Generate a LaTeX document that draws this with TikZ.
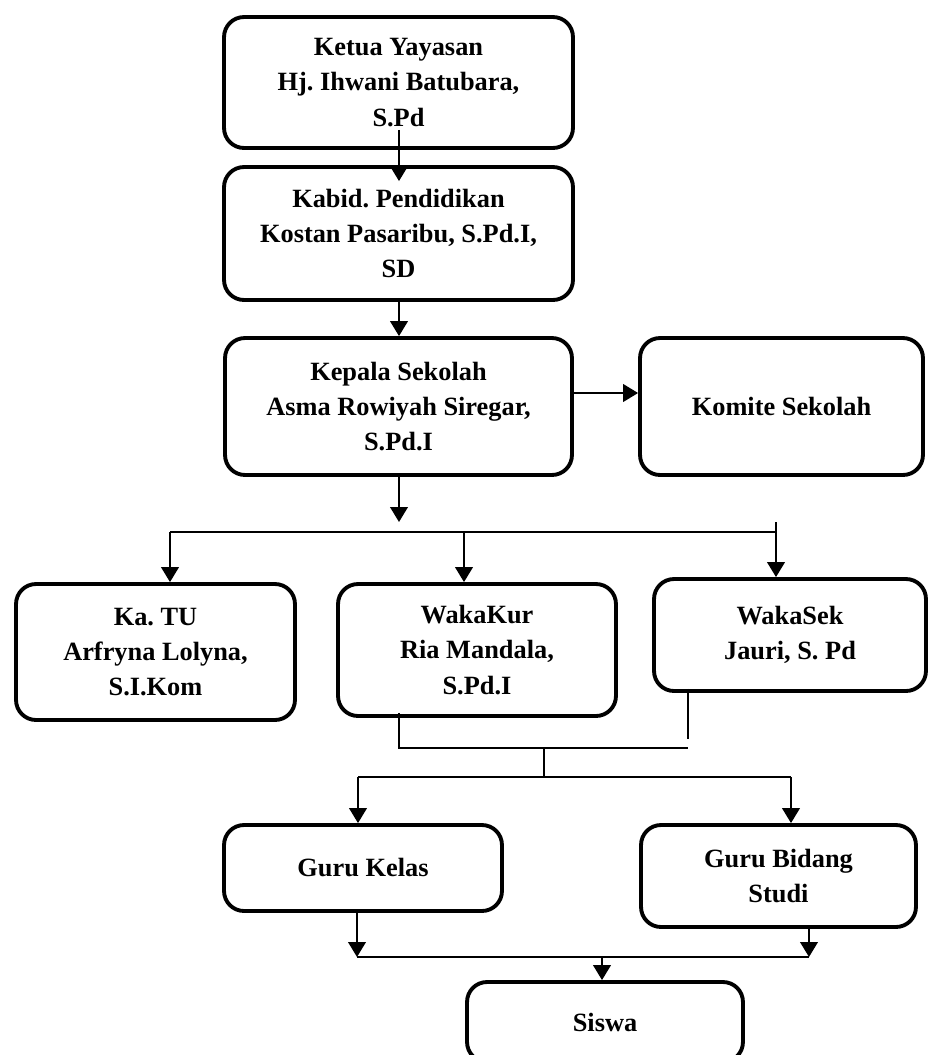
\documentclass[tikz,border=0pt]{standalone}
\usepackage{fontspec}
\setmainfont{Liberation Serif}
\usetikzlibrary{arrows.meta}
\frenchspacing

\begin{document}
\begin{tikzpicture}[x=0.02cm,y=-0.02cm,
        kotak/.style={draw,line width=2.2pt,rounded corners=0.4cm,align=center,inner sep=0pt,font=\fontsize{15}{20}\selectfont\bfseries},
        panah/.style={line width=1.1pt,-{Triangle[length=8.5pt,width=10pt]}},
        garis/.style={line width=0.9pt}]
        \useasboundingbox (0,0) rectangle (929,1055);
        \clip (0,0) rectangle (929,1055);
        \node[kotak,minimum width=6.98cm,minimum height=2.62cm] (ketua) at (398.5,82.5) {Ketua Yayasan\\Hj. Ihwani Batubara,\\S.Pd};
        \node[kotak,minimum width=6.98cm,minimum height=2.66cm] (kabid) at (398.5,233.5) {Kabid. Pendidikan\\Kostan Pasaribu, S.Pd.I,\\SD};
        \node[kotak,minimum width=6.94cm,minimum height=2.74cm] (kepala) at (398.5,406.5) {Kepala Sekolah\\Asma Rowiyah Siregar,\\S.Pd.I};
        \node[kotak,minimum width=5.66cm,minimum height=2.74cm] (komite) at (781.5,406.5) {Komite Sekolah};
        \node[kotak,minimum width=5.58cm,minimum height=2.72cm] (katu) at (155.5,652) {Ka. TU\\Arfryna Lolyna,\\S.I.Kom};
        \node[kotak,minimum width=5.56cm,minimum height=2.64cm] (wakakur) at (477,650) {WakaKur\\Ria Mandala,\\S.Pd.I};
        \node[kotak,minimum width=5.44cm,minimum height=2.24cm] (wakasek) at (790,635) {WakaSek\\Jauri, S. Pd};
        \node[kotak,minimum width=5.56cm,minimum height=1.72cm] (gurukelas) at (363,868) {Guru Kelas};
        \node[kotak,minimum width=5.5cm,minimum height=2.04cm] (gurubidang) at (778.5,876) {Guru Bidang\\Studi};
        \node[kotak,minimum width=5.52cm,minimum height=1.6cm] (siswa) at (605,1022) {Siswa};

        \coordinate (busKiri) at (170,532);
        \coordinate (busTengah) at (464,532);
        \coordinate (busKanan) at (776,532);
        \coordinate (atasKanan) at (776,522);
        \coordinate (wkKiri) at (399,748);
        \coordinate (wkKanan) at (688,748);
        \coordinate (wkTengah) at (544,748);
        \coordinate (guruKiri) at (358,777);
        \coordinate (guruTengah) at (544,777);
        \coordinate (guruKanan) at (791,777);
        \coordinate (bawahKiri) at (357,957);
        \coordinate (bawahTengah) at (602,957);
        \coordinate (bawahKanan) at (809,957);

        \draw[panah] ([xshift=0.01cm,yshift=0.4cm]ketua.south) -- ([xshift=0.01cm,yshift=-0.32cm]kabid.north);
        \draw[panah] ([xshift=0.01cm]kabid.south) -- ([xshift=0.01cm]kepala.north);
        \draw[panah] ([yshift=0.27cm]kepala.east) -- ([yshift=0.27cm]komite.west);
        \draw[panah] ([xshift=0.01cm]kepala.south) -- ([xshift=0.01cm,yshift=0.2cm]kepala.south |- busKiri);
        \draw[garis,line width=1.1pt] (busKiri) -- (busKanan);
        \draw[panah] (busKiri) -- (busKiri |- katu.north);
        \draw[panah] (busTengah) -- (busTengah |- wakakur.north);
        \draw[panah] (atasKanan) -- (atasKanan |- wakasek.north);

        \draw[garis] ([yshift=0.1cm]wakakur.south -| wkKiri) -- (wkKiri) -- (wkKanan);
        \draw[garis] ([yshift=0.08cm]wakasek.south -| wkKanan) -- ([yshift=0.18cm]wkKanan);
        \draw[garis] (wkTengah) -- (guruTengah);
        \draw[garis] (guruKiri) -- (guruKanan);
        \draw[panah] (guruKiri) -- (guruKiri |- gurukelas.north);
        \draw[panah] (guruKanan) -- (guruKanan |- gurubidang.north);

        \draw[panah] (gurukelas.south -| bawahKiri) -- (bawahKiri);
        \draw[panah] (gurubidang.south -| bawahKanan) -- (bawahKanan);
        \draw[garis] (bawahKiri) -- (bawahKanan);
        \draw[panah] (bawahTengah) -- (bawahTengah |- siswa.north);
\end{tikzpicture}
\end{document}
